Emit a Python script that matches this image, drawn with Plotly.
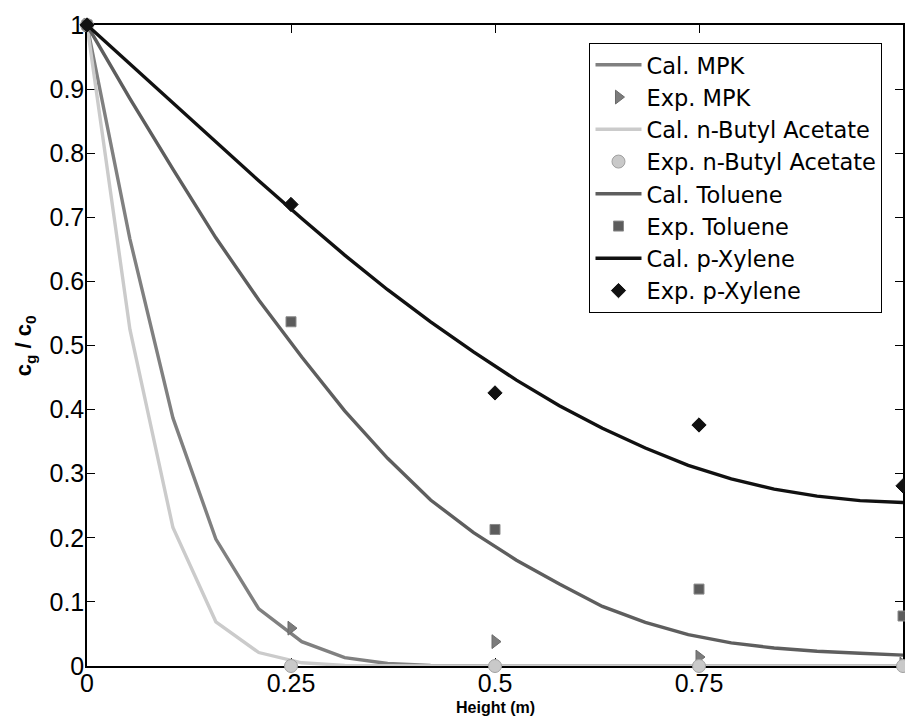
import plotly.graph_objects as go

# Model curve sample heights (m)
x_cal = [0.0, 0.0526, 0.1053, 0.1579, 0.2105, 0.2632, 0.3158, 0.3684, 0.4211, 0.4737,
         0.5263, 0.5789, 0.6316, 0.6842, 0.7368, 0.7895, 0.8421, 0.8947, 0.9474, 1.0]

cal_mpk = [1.0, 0.666, 0.387, 0.198, 0.089, 0.038, 0.013, 0.004, 0.001, 0.0,
           0.0, 0.0, 0.0, 0.0, 0.0, 0.0, 0.0, 0.0, 0.0, 0.0]
cal_nba = [1.0, 0.525, 0.216, 0.069, 0.021, 0.005, 0.001, 0.0, 0.0, 0.0,
           0.0, 0.0, 0.0, 0.0, 0.0, 0.0, 0.0, 0.0, 0.0, 0.0]
cal_tol = [1.0, 0.885, 0.775, 0.668, 0.571, 0.482, 0.398, 0.324, 0.259, 0.208,
           0.165, 0.128, 0.093, 0.068, 0.049, 0.036, 0.028, 0.023, 0.020, 0.017]
cal_xyl = [1.0, 0.939, 0.879, 0.818, 0.757, 0.698, 0.641, 0.587, 0.537, 0.490,
           0.446, 0.406, 0.371, 0.340, 0.313, 0.292, 0.276, 0.265, 0.258, 0.255]

# Experimental points
x_exp = [0.0, 0.25, 0.5, 0.75, 1.0]
exp_mpk = [1.0, 0.059, 0.038, 0.014, 0.003]
exp_nba = [1.0, 0.0, 0.0, 0.0, 0.0]
exp_tol = [1.0, 0.537, 0.213, 0.120, 0.078]
exp_xyl = [1.0, 0.720, 0.426, 0.376, 0.281]

x_ticks = [0, 0.25, 0.5, 0.75, 1]
x_ticklabels = ["0", "0.25", "0.5", "0.75", "1"]

TICKFONT = "Liberation Sans, Arial, Helvetica, sans-serif"
LEGFONT = "DejaVu Sans, Liberation Sans, Arial, sans-serif"

fig = go.Figure()

def cal(name, y, color, width=3.4):
    fig.add_trace(go.Scatter(x=x_cal, y=y, mode="lines", name=name,
                             line=dict(color=color, width=width),
                             cliponaxis=False))

def exp(name, y, symbol, fill, edge, size):
    fig.add_trace(go.Scatter(x=x_exp, y=y, mode="markers", name=name,
                             marker=dict(symbol=symbol, color=fill, size=size,
                                         line=dict(color=edge, width=1)),
                             cliponaxis=False))

cal("Cal. MPK", cal_mpk, "#808080")
exp("Exp. MPK", exp_mpk, "triangle-right", "#7c7c7c", "#6a6a6a", 12)
cal("Cal. n-Butyl Acetate", cal_nba, "#cbcbcb")
exp("Exp. n-Butyl Acetate", exp_nba, "circle", "#c9c9c9", "#a0a0a0", 13)
cal("Cal. Toluene", cal_tol, "#5e5e5e")
exp("Exp. Toluene", exp_tol, "square", "#5c5c5c", "#8a8a8a", 10)
cal("Cal. p-Xylene", cal_xyl, "#111111")
exp("Exp. p-Xylene", exp_xyl, "diamond", "#111111", "#111111", 11)

axis_common = dict(
    showline=True, linecolor="black", linewidth=1.5, mirror="ticks",
    ticks="inside", ticklen=8, tickwidth=1, tickcolor="black",
    showgrid=False, zeroline=False, layer="below traces",
    tickfont=dict(family=TICKFONT, size=25, color="black"),
)

fig.update_layout(
    width=905, height=720,
    margin=dict(l=87, r=0, t=25, b=54),
    plot_bgcolor="white", paper_bgcolor="white",
    showlegend=True,
    legend=dict(
        x=0.6158, y=0.9724, xanchor="left", yanchor="top",
        bgcolor="white", bordercolor="black", borderwidth=1,
        font=dict(family=LEGFONT, size=22.5, color="black"),
        itemwidth=46, tracegroupgap=0,
    ),
    xaxis=dict(range=[0, 1], tickvals=x_ticks, ticktext=x_ticklabels,
               ticklabelstandoff=-6,
               **axis_common),
    yaxis=dict(range=[0, 1], dtick=0.1, tick0=0, ticklabelstandoff=-4,
               **axis_common),
    annotations=[
        dict(text="<b>Height (m)</b>", x=0.5, xref="x",
             y=-0.064, yref="paper", xanchor="center", yanchor="middle",
             showarrow=False,
             font=dict(family=TICKFONT, size=16, color="black")),
        dict(text="<b>c<sub>g</sub> / c<sub>0</sub></b>", textangle=-90,
             x=-0.0764, xref="paper", y=0.5, yref="paper",
             xanchor="center", yanchor="middle", showarrow=False,
             font=dict(family=TICKFONT, size=22, color="black")),
    ],
)

# Remove the default page margin so the 905x720 figure fills the window exactly
fig.write_html("out.html",
               config={"displayModeBar": False},
               post_script="document.body.style.margin='0';"
                           "document.body.style.overflow='hidden';")
